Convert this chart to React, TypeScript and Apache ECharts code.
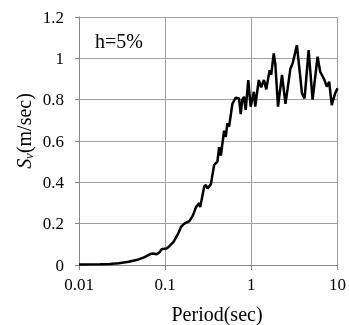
import React, { useEffect, useRef } from "react";
import * as echarts from "echarts";

const periods = [
  0.01, 0.0175, 0.0228, 0.0289, 0.0377, 0.0492, 0.0577, 0.067, 0.072, 0.08, 0.086, 0.091,
  0.098, 0.104, 0.11, 0.117, 0.124, 0.142, 0.153, 0.167, 0.191, 0.21, 0.228, 0.249, 0.255,
  0.284, 0.297, 0.31, 0.339, 0.37, 0.404, 0.423, 0.443, 0.483, 0.505, 0.527, 0.552, 0.603,
  0.659, 0.72, 0.753, 0.786, 0.822, 0.86, 0.921, 0.982, 1.07, 1.11, 1.22, 1.3, 1.4, 1.49,
  1.63, 1.7, 1.82, 1.9, 2.04, 2.27, 2.49, 2.84, 3.02, 3.38, 3.87, 4.15, 4.62, 5.14, 5.87,
  6.3, 7.06, 7.5, 8.0, 8.58, 9.38, 10,
];
const svValues = [
  0.003, 0.004, 0.005, 0.008, 0.016, 0.027, 0.038, 0.053, 0.056, 0.052, 0.062, 0.076,
  0.079, 0.08, 0.088, 0.1, 0.11, 0.153, 0.185, 0.2, 0.212, 0.24, 0.28, 0.3, 0.28,
  0.38, 0.387, 0.37, 0.39, 0.484, 0.5, 0.57, 0.53, 0.65, 0.62, 0.685, 0.67, 0.78,
  0.81, 0.806, 0.73, 0.8, 0.814, 0.75, 0.895, 0.766, 0.838, 0.766, 0.895, 0.86, 0.895, 0.85,
  0.943, 0.92, 1.024, 0.97, 0.766, 0.92, 0.78, 0.95, 0.976, 1.064, 0.83, 0.806, 1.04, 0.8, 1.008,
  0.935, 0.895, 0.863, 0.887, 0.774, 0.83, 0.855,
];
const yTicks = [0, 0.2, 0.4, 0.6, 0.8, 1, 1.2];
const xTicks = [0.01, 0.1, 1, 10];

const FONT = "Liberation Serif";

export default function App() {
  const ref = useRef<HTMLDivElement>(null);
  useEffect(() => {
    if (!ref.current) return;
    const chart = echarts.init(ref.current, null, { renderer: "svg" });
    const data = periods.map((p, i) => [p, svValues[i]]);
    chart.setOption({
      animation: false,
      textStyle: { fontFamily: FONT },
      grid: { left: 79, right: 10, top: 17, bottom: 60 },
      xAxis: {
        type: "log",
        logBase: 10,
        min: xTicks[0],
        max: xTicks[xTicks.length - 1],
        axisLine: { lineStyle: { color: "#888", width: 1 } },
        axisTick: { show: true, length: 5, lineStyle: { color: "#888" } },
        splitLine: { show: true, lineStyle: { color: "#a0a0a0", width: 1 } },
        axisLabel: {
          fontFamily: FONT,
          fontSize: 17,
          color: "#000",
          margin: 11,
          formatter: (v: number) => String(v),
        },
      },
      yAxis: {
        type: "value",
        min: yTicks[0],
        max: yTicks[yTicks.length - 1],
        interval: 0.2,
        axisLine: { show: true, lineStyle: { color: "#888", width: 1 } },
        axisTick: { show: true, length: 4, lineStyle: { color: "#888" } },
        splitLine: { show: true, lineStyle: { color: "#a0a0a0", width: 1 } },
        axisLabel: {
          fontFamily: FONT,
          fontSize: 17,
          color: "#000",
          margin: 15,
          formatter: (v: number) => String(Math.round(v * 10) / 10),
        },
      },
      series: [
        {
          type: "line",
          data,
          showSymbol: false,
          symbol: "none",
          lineStyle: { color: "#000", width: 2.5 },
        },
      ],
      graphic: [
        {
          type: "text",
          x: 217,
          y: 314,
          style: {
            text: "Period(sec)",
            fontFamily: FONT,
            fontSize: 20,
            fill: "#000",
            align: "center",
            verticalAlign: "middle",
          },
        },
        {
          type: "text",
          x: 95,
          y: 41,
          style: {
            text: "h=5%",
            fontFamily: FONT,
            fontSize: 20,
            fill: "#000",
            align: "left",
            verticalAlign: "middle",
          },
        },
        {
          type: "text",
          x: 24,
          y: 131,
          rotation: Math.PI / 2,
          style: {
            text: "{s|S}{v|v}{n|(m/sec)}",
            align: "center",
            verticalAlign: "middle",
            rich: {
              s: { fontFamily: FONT, fontSize: 20, fontStyle: "italic", fill: "#000" },
              v: {
                fontFamily: FONT,
                fontSize: 13,
                fontStyle: "italic",
                fill: "#000",
                verticalAlign: "bottom",
                padding: [8, 0, 0, 0],
              },
              n: { fontFamily: FONT, fontSize: 20, fill: "#000" },
            },
          },
        },
      ],
    });
    return () => chart.dispose();
  }, []);
  return (
    <div
      ref={ref}
      style={{ position: "fixed", left: 0, top: 0, width: 349, height: 325 }}
    />
  );
}
